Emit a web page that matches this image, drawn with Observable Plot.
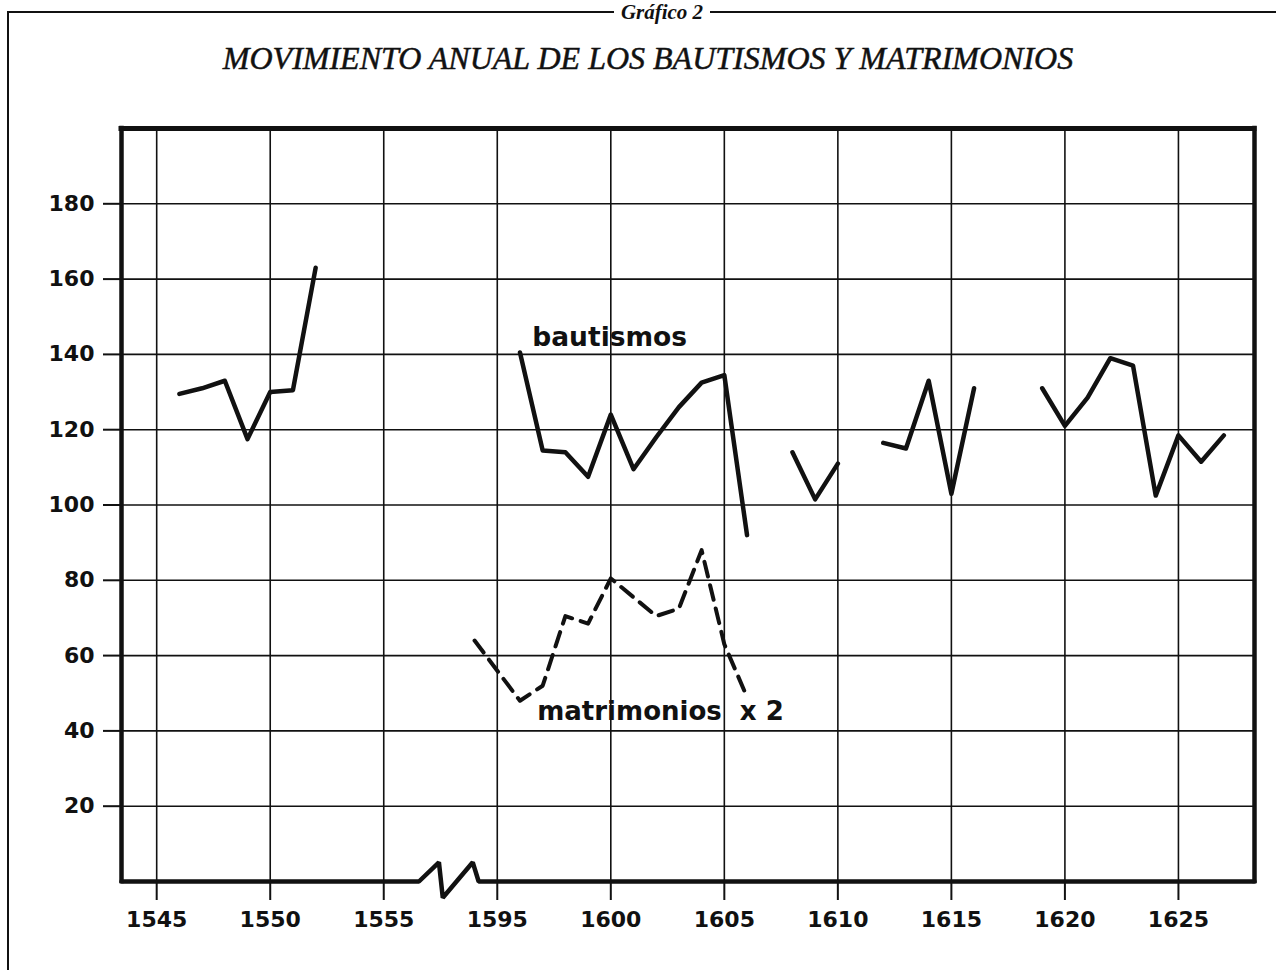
<!DOCTYPE html>
<html>
<head>
<meta charset="utf-8">
<script src="https://cdn.jsdelivr.net/npm/d3@7"></script>
<script src="https://cdn.jsdelivr.net/npm/@observablehq/plot@0.6"></script>
<style>
  body { margin: 0; background: #fff; }
  #wrap { position: relative; width: 1276px; height: 970px; overflow: hidden; background: #fff; }
  #head { position: relative; height: 100px; }
  .rule { position: absolute; background: #111; }
  #sup { position: absolute; top: 0; left: 612px; width: 100px; text-align: center;
         font-family: "Liberation Serif", serif; font-style: italic; font-weight: bold;
         font-size: 21px; line-height: 24px; color: #111; }
  #title { position: absolute; top: 38px; left: 0; width: 1296px; text-align: center;
           font-family: "Liberation Serif", serif; font-style: italic; font-size: 32px;
           line-height: 40px; color: #111; -webkit-text-stroke: 0.5px #111; }
  #chart { position: absolute; top: 100px; left: 0; }
</style>
</head>
<body>
<div id="wrap">
  <div id="head">
    <div class="rule" style="left:8px;top:11px;width:606px;height:2px;"></div>
    <div class="rule" style="left:710px;top:11px;width:566px;height:2px;"></div>
    <div id="sup">Gráfico 2</div>
    <div id="title">MOVIMIENTO ANUAL DE LOS BAUTISMOS Y MATRIMONIOS</div>
  </div>
  <div class="rule" style="left:7px;top:11px;width:2px;height:959px;"></div>
  <div id="chart"></div>
</div>
<script>
// ---- data ----
const bautYears  = [1546, 1547, 1548, 1549, 1550, 1551, 1552, 1553,
                    1596, 1597, 1598, 1599, 1600, 1601, 1602, 1603, 1604, 1605, 1606, 1607,
                    1608, 1609, 1610, 1611,
                    1612, 1613, 1614, 1615, 1616, 1617,
                    1619, 1620, 1621, 1622, 1623, 1624, 1625, 1626, 1627];
const bautValues = [129.5, 131, 133, 117.5, 130, 130.5, 163, NaN,
                    140.5, 114.5, 114, 107.5, 124, 109.5, 118, 126, 132.5, 134.5, 92, NaN,
                    114, 101.5, 111, NaN,
                    116.5, 115, 133, 103, 131, NaN,
                    131, 121, 128.5, 139, 137, 102.5, 118.5, 111.5, 118.5];

const matrYears  = [1594, 1596, 1597, 1598, 1599, 1600, 1602, 1603, 1604, 1605, 1606];
const matrValues = [64, 48, 52, 70.5, 68.5, 80.5, 70.5, 72.5, 88, 63, 49];

const xTickYears = [1545, 1550, 1555, 1595, 1600, 1605, 1610, 1615, 1620, 1625];
const yTicks     = [20, 40, 60, 80, 100, 120, 140, 160, 180];

// ---- broken time axis: years 1558..1592 are cut out ----
const GAP = 35;
const pos = yr => (yr >= 1590 ? yr - GAP : yr);
const xDomain = [1543.45, 1593.35];
const yDomain = [0, 200];

const baut = bautYears.map((yr, i) => ({x: pos(yr), y: bautValues[i]}));
const matr = matrYears.map((yr, i) => ({x: pos(yr), y: matrValues[i]}));
const xTicks = xTickYears.map(pos);

// bottom frame line with the zig-zag break symbol
const b0 = 1556.55;
const bottomLine = [
  {x: xDomain[0], y: 0}, {x: b0, y: 0}, {x: b0 + 0.88, y: 5.1}, {x: b0 + 1.05, y: -4.3},
  {x: b0 + 2.37, y: 5.1}, {x: b0 + 2.63, y: 0}, {x: xDomain[1], y: 0}
];

const ink = "#111";
const chart = Plot.plot({
  width: 1276,
  height: 870,
  marginTop: 28,
  marginBottom: 89,
  marginLeft: 121,
  marginRight: 22,
  style: {background: "transparent", color: ink, fontFamily: "DejaVu Sans"},
  x: {domain: xDomain},
  y: {domain: yDomain},
  marks: [
    Plot.gridX(xTicks, {stroke: ink, strokeOpacity: 1, strokeWidth: 1.6}),
    Plot.gridY(yTicks, {stroke: ink, strokeOpacity: 1, strokeWidth: 1.6}),
    Plot.axisX(xTicks, {tickFormat: d => String(d > 1558 ? d + GAP : d), tickSize: 19, tickPadding: 11,
      fontSize: 22, fontWeight: "bold", strokeWidth: 2, label: null}),
    Plot.axisY(yTicks, {tickFormat: d => String(d), tickSize: 18, tickPadding: 9, fontSize: 22,
      fontWeight: "bold", strokeWidth: 2, label: null}),
    Plot.ruleX(xDomain, {stroke: ink, strokeWidth: 4.5, strokeLinecap: "square"}),
    Plot.ruleY([yDomain[1]], {stroke: ink, strokeWidth: 5, strokeLinecap: "square"}),
    Plot.line(bottomLine, {x: "x", y: "y", stroke: ink, strokeWidth: 4.5, strokeLinejoin: "miter"}),
    Plot.line(baut, {x: "x", y: "y", stroke: ink, strokeWidth: 4.5, strokeLinejoin: "round"}),
    Plot.line(matr, {x: "x", y: "y", stroke: ink, strokeWidth: 4, strokeDasharray: "15,9",
      strokeLinejoin: "round"}),
    Plot.text(["bautismos"], {text: d => d, x: 1561.54, y: 144.6, textAnchor: "start",
      fontSize: 26.5, fontWeight: "bold", fill: ink}),
    Plot.text(["matrimonios\u00a0\u00a0x 2"], {text: d => d, x: 1561.76, y: 45.1, textAnchor: "start",
      fontSize: 26, fontWeight: "bold", fill: ink})
  ]
});
document.getElementById("chart").appendChild(chart);
</script>
</body>
</html>
